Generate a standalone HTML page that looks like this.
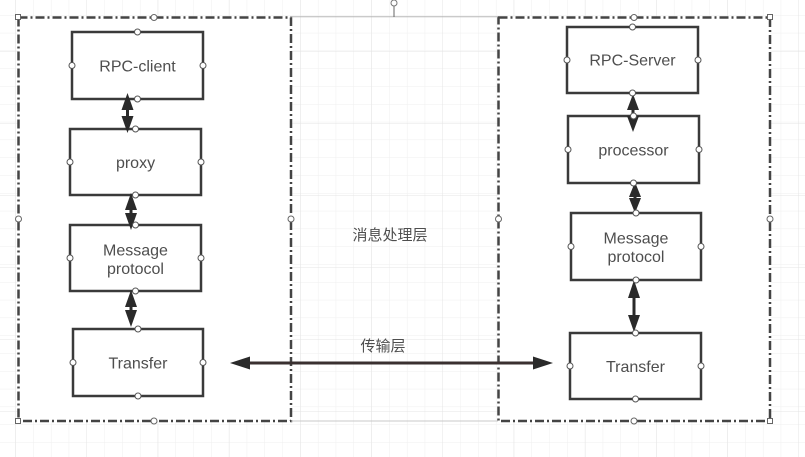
<!DOCTYPE html>
<html><head><meta charset="utf-8"><style>
html,body{margin:0;padding:0;background:#fff;width:805px;height:457px;overflow:hidden}
svg{display:block}
text{font-family:"Liberation Sans","Noto Sans CJK SC",sans-serif;fill:#4e4e4e;font-size:16px}
</style></head><body>
<svg width="805" height="457" viewBox="0 0 805 457" xmlns="http://www.w3.org/2000/svg">
<defs>
<pattern id="gmin" x="15.3" y="15" width="17.8" height="17.8" patternUnits="userSpaceOnUse">
<path d="M0 0V17.8M0 0H17.8" stroke="#efefef" stroke-width="1" fill="none"/>
</pattern>
<pattern id="gmaj" x="15.3" y="51" width="71.2" height="72" patternUnits="userSpaceOnUse">
<path d="M0 0V72M0 0H71.2" stroke="#e4e4e4" stroke-width="1" fill="none"/>
</pattern>
</defs>
<rect width="805" height="457" fill="#fff"/>
<rect width="805" height="457" fill="url(#gmin)"/>
<rect width="805" height="457" fill="url(#gmaj)"/>

<!-- containers -->
<rect x="18.5" y="17.5" width="272.5" height="403.5" fill="#fff" stroke="#444" stroke-width="2.5" stroke-dasharray="9 3 2 3"/>
<rect x="498.5" y="17.5" width="271.5" height="403.5" fill="#fff" stroke="#444" stroke-width="2.5" stroke-dasharray="9 3 2 3"/>

<!-- selection thin lines -->
<line x1="291" y1="16.8" x2="498" y2="16.8" stroke="#b8b8b8" stroke-width="1"/>
<line x1="291" y1="421" x2="498" y2="421" stroke="#c8c8c8" stroke-width="1"/>
<line x1="394" y1="6" x2="394" y2="17" stroke="#666" stroke-width="1"/>
<circle cx="394" cy="3" r="3" fill="#fff" stroke="#777" stroke-width="1"/>

<!-- container handles -->
<g fill="#fff" stroke="#666" stroke-width="1">
<rect x="15.5" y="14.5" width="5" height="5"/>
<rect x="15.5" y="418.5" width="5" height="5"/>
<rect x="767.5" y="14.5" width="5" height="5"/>
<rect x="767.5" y="418.5" width="5" height="5"/>
<circle cx="154" cy="17.5" r="3"/>
<circle cx="154" cy="421" r="3"/>
<circle cx="18.5" cy="219" r="3"/>
<circle cx="291" cy="219" r="3"/>
<circle cx="634" cy="17.5" r="3"/>
<circle cx="634" cy="421" r="3"/>
<circle cx="498.5" cy="219" r="3"/>
<circle cx="770" cy="219" r="3"/>
</g>

<!-- boxes -->
<g fill="#fff" stroke="#3a3a3a" stroke-width="2.5">
<rect x="72" y="32" width="131" height="67"/>
<rect x="70" y="129" width="131" height="66"/>
<rect x="70" y="225" width="131" height="66"/>
<rect x="73" y="329" width="130" height="67"/>
<rect x="567" y="27" width="131" height="66"/>
<rect x="568" y="116" width="131" height="67"/>
<rect x="571" y="213" width="130" height="67"/>
<rect x="570" y="333" width="131" height="66"/>
</g>

<!-- vertical arrows -->
<g fill="#2a2a2a" stroke="#2a2a2a">
<line x1="127.5" y1="100" x2="127.5" y2="126" stroke-width="3"/>
<polygon points="127.5,93 121.5,110 133.5,110" stroke="none"/>
<polygon points="127.5,133 121.5,116 133.5,116" stroke="none"/>

<line x1="131" y1="198" x2="131" y2="224" stroke-width="3"/>
<polygon points="131,193 125,210 137,210" stroke="none"/>
<polygon points="131,230 125,213 137,213" stroke="none"/>

<line x1="131" y1="296" x2="131" y2="322" stroke-width="3"/>
<polygon points="131,290 125,307 137,307" stroke="none"/>
<polygon points="131,327 125,310 137,310" stroke="none"/>

<line x1="633" y1="100" x2="633" y2="125" stroke-width="3"/>
<polygon points="633,94 627,110 639,110" stroke="none"/>
<polygon points="633,132 627,116 639,116" stroke="none"/>

<line x1="635" y1="188" x2="635" y2="208" stroke-width="3"/>
<polygon points="635,182 629,197 641,197" stroke="none"/>
<polygon points="635,213 629,198 641,198" stroke="none"/>

<line x1="634" y1="286" x2="634" y2="326" stroke-width="3"/>
<polygon points="634,280 628,298 640,298" stroke="none"/>
<polygon points="634,332 628,315 640,315" stroke="none"/>
</g>

<!-- horizontal arrow -->
<line x1="245" y1="363" x2="538" y2="363" stroke="#3a3030" stroke-width="3"/>
<polygon points="230,363 250,356.5 250,369.5" fill="#2a2a2a"/>
<polygon points="553,363 533,356.5 533,369.5" fill="#2a2a2a"/>

<!-- box handles -->
<g fill="#fff" stroke="#555" stroke-width="1">
<circle cx="137.5" cy="32" r="3"/><circle cx="137.5" cy="99" r="3"/><circle cx="72" cy="65.5" r="3"/><circle cx="203" cy="65.5" r="3"/>
<circle cx="135.5" cy="129" r="3"/><circle cx="135.5" cy="195" r="3"/><circle cx="70" cy="162" r="3"/><circle cx="201" cy="162" r="3"/>
<circle cx="135.5" cy="225" r="3"/><circle cx="135.5" cy="291" r="3"/><circle cx="70" cy="258" r="3"/><circle cx="201" cy="258" r="3"/>
<circle cx="138" cy="329" r="3"/><circle cx="138" cy="396" r="3"/><circle cx="73" cy="362.5" r="3"/><circle cx="203" cy="362.5" r="3"/>
<circle cx="632.5" cy="27" r="3"/><circle cx="632.5" cy="93" r="3"/><circle cx="567" cy="60" r="3"/><circle cx="698" cy="60" r="3"/>
<circle cx="633.5" cy="116" r="3"/><circle cx="633.5" cy="183" r="3"/><circle cx="568" cy="149.5" r="3"/><circle cx="699" cy="149.5" r="3"/>
<circle cx="636" cy="213" r="3"/><circle cx="636" cy="280" r="3"/><circle cx="571" cy="246.5" r="3"/><circle cx="701" cy="246.5" r="3"/>
<circle cx="635.5" cy="333" r="3"/><circle cx="635.5" cy="399" r="3"/><circle cx="570" cy="366" r="3"/><circle cx="701" cy="366" r="3"/>
</g>

<!-- labels -->
<g text-anchor="middle">
<text x="137.5" y="71.5">RPC-client</text>
<text x="135.5" y="168">proxy</text>
<text x="135.5" y="255.5">Message</text>
<text x="135.5" y="274">protocol</text>
<text x="138" y="368.5">Transfer</text>
<text x="632.5" y="65.5">RPC-Server</text>
<text x="633.5" y="155.5">processor</text>
<text x="636" y="243.5">Message</text>
<text x="636" y="262">protocol</text>
<text x="635.5" y="372">Transfer</text>
<text x="390" y="240" style="font-size:15px">消息处理层</text>
<text x="383" y="351" style="font-size:15px">传输层</text>
</g>
</svg>
</body></html>
